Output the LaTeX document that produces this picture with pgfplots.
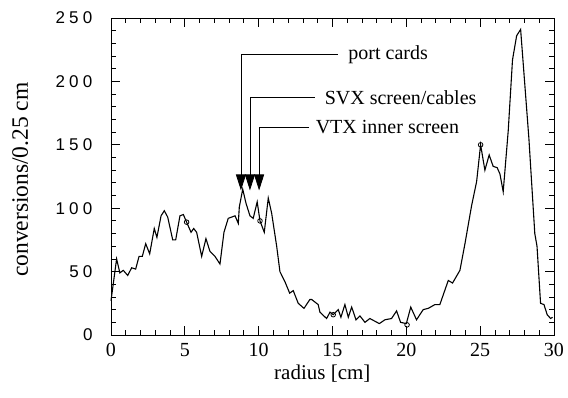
\documentclass[border=0pt]{standalone}
\usepackage{fontspec}
\setmainfont{Liberation Serif}
\newfontfamily\ytfont{Liberation Sans}
\newcommand{\dk}{\kern4.3pt}
\usepackage{pgfplots}
\pgfplotsset{compat=1.18}
\usetikzlibrary{arrows.meta}
\begin{document}
\begin{tikzpicture}
\begin{axis}[
  scale only axis, width=443pt, height=317pt,
  xmin=0, xmax=30, ymin=0, ymax=250,
  xtick={0,5,10,15,20,25,30}, xticklabels={0,5,10,15,20,25,30},
  ytick={0,50,100,150,200,250},
  yticklabels={0,5\dk0,1\dk0\dk0,1\dk5\dk0,2\dk0\dk0,2\dk5\dk0},
  minor x tick num=4, minor y tick num=4,
  tick align=inside, major tick length=9pt, minor tick length=5pt,
  xticklabel style={font=\fontsize{20}{24}\selectfont, yshift=-5pt},
  yticklabel style={font=\fontsize{17}{21}\selectfont\ytfont, xshift=-15pt},
  xlabel={radius [cm]}, ylabel={conversions/0.25 cm},
  xlabel style={font=\fontsize{21}{25}\selectfont, at={(axis description cs:0.477,-0.123)}, anchor=center},
  ylabel style={font=\fontsize{23.5}{27}\selectfont, at={(axis description cs:-0.205,0.49)}, anchor=center},
  axis line style={line width=0.9pt},
  every tick/.style={black, line width=0.8pt},
  clip=false,
]
\addplot[black, line width=1.1pt] coordinates {
(0.0,27) (0.38,60) (0.6,49) (0.83,51) (1.13,47) (1.4,53) (1.67,52) (1.9,62) (2.12,62) (2.35,72)
(2.62,64) (2.93,84) (3.11,77) (3.39,94) (3.61,98) (3.84,93) (4.18,75) (4.38,75) (4.67,94) (4.9,95)
(5.12,89) (5.42,81) (5.6,84) (5.8,81) (6.14,62) (6.43,76) (6.7,66) (7.04,62) (7.38,56) (7.65,81)
(7.94,92) (8.4,94) (8.62,88) (8.69,101) (8.92,115) (9.14,104) (9.41,94) (9.63,92) (9.9,105) (10.09,90)
(10.38,81) (10.65,108) (10.88,96) (11.22,70) (11.44,50) (11.78,42) (12.1,33) (12.34,35) (12.68,25) (13.07,21)
(13.47,28) (13.59,28) (14.03,24) (14.15,18) (14.6,13) (14.83,18) (15.05,16) (15.39,20) (15.57,14) (15.84,24)
(16.07,14) (16.3,22) (16.59,12) (16.86,15) (17.2,10) (17.53,13) (18.17,9) (18.55,12) (19.0,13) (19.34,19)
(19.61,10) (20.0,9) (20.3,22) (20.69,12) (21.14,20) (21.48,21) (21.94,24) (22.27,24) (22.84,43) (23.13,41)
(23.63,51) (23.97,72) (24.42,102) (24.76,121) (25.03,150) (25.32,130) (25.61,142) (25.88,133) (26.15,132) (26.34,127)
(26.56,113) (26.9,161) (27.19,217) (27.47,236) (27.74,241) (28.3,155) (28.7,80) (28.85,70) (29.09,25) (29.32,24)
(29.54,16) (29.77,13) (29.9,14)
};
\addplot[only marks, mark=o, mark size=2.3pt, mark options={line width=0.8pt, black}] coordinates {
(5.12,89) (10.09,90) (15.05,16) (20.05,8) (25.03,150)
};
\draw[line width=0.8pt, -{Triangle[width=10pt,length=16pt]}] (axis cs:15.37,221.3) -| (axis cs:8.8,114);
\draw[line width=0.8pt, -{Triangle[width=10pt,length=16pt]}] (axis cs:13.81,187.4) -| (axis cs:9.41,114);
\draw[line width=0.8pt, -{Triangle[width=10pt,length=16pt]}] (axis cs:13.41,163.8) -| (axis cs:10.03,114);
\node[anchor=west, font=\fontsize{20}{24}\selectfont] at (axis cs:15.84,221.3) {port cards};
\node[anchor=west, font=\fontsize{20}{24}\selectfont] at (axis cs:14.24,187.4) {SVX screen/cables};
\node[anchor=west, font=\fontsize{20}{24}\selectfont] at (axis cs:13.63,163.8) {VTX inner screen};
\end{axis}
\pgfresetboundingbox
\path (current axis.south west) ++(-111pt,-62pt) rectangle ++(568pt,397pt);
\end{tikzpicture}
\end{document}
